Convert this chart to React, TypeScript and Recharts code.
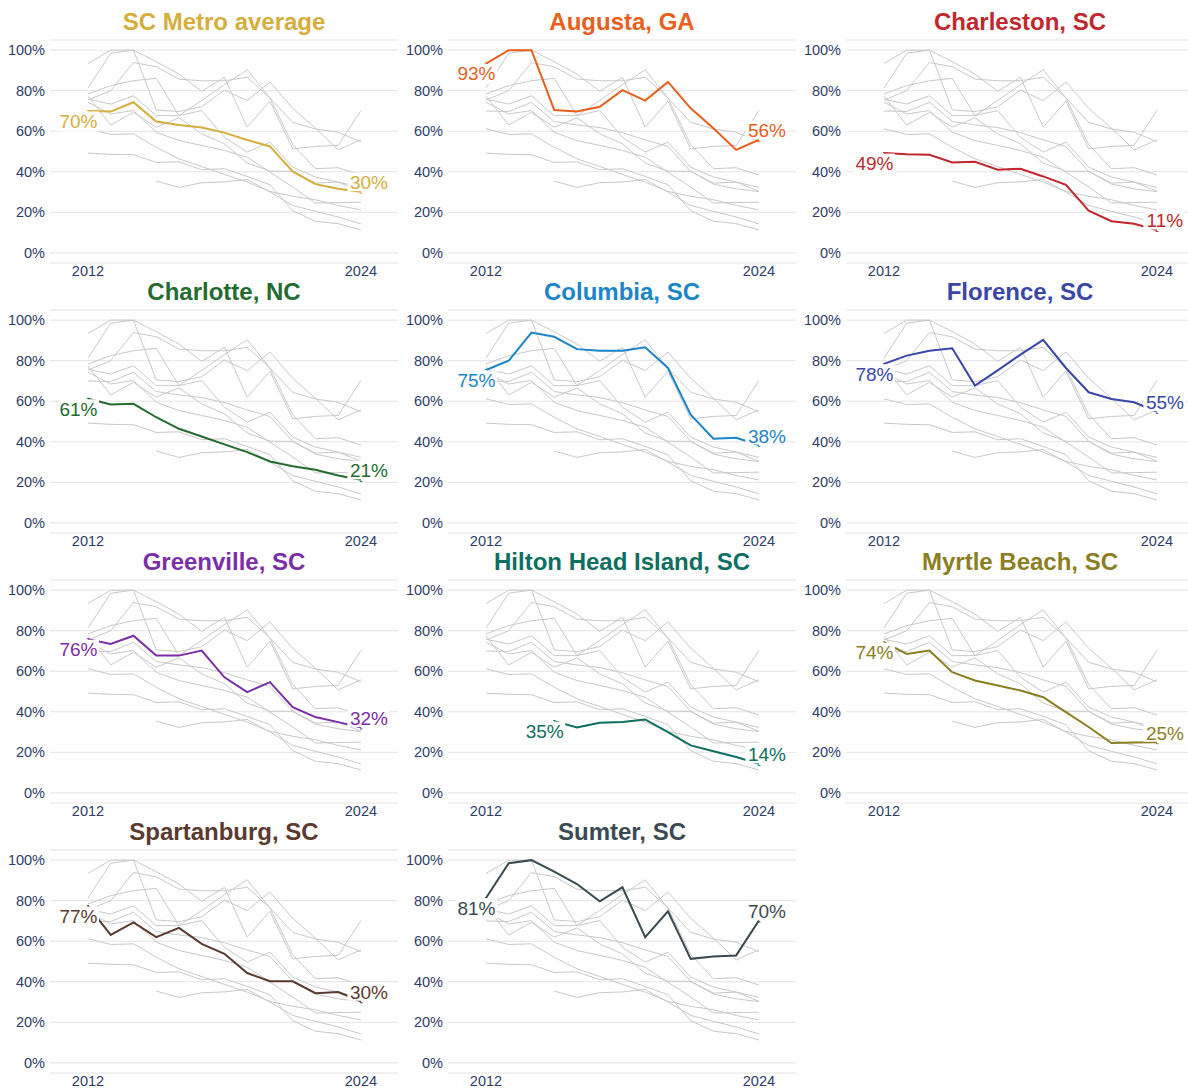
import React from 'react';
import { LineChart, Line, XAxis, YAxis, CartesianGrid } from 'recharts';

const years = [2012, 2013, 2014, 2015, 2016, 2017, 2018, 2019, 2020, 2021, 2022, 2023, 2024];

const scMetroAverage = [70.0, 69.7, 74.3, 64.8, 63.1, 61.8, 59.3, 55.7, 52.5, 40.2, 33.9, 31.6, 30.2];
const augusta = [93.4, 100, 100, 70.5, 69.7, 72.1, 80.3, 75.1, 84.3, 71.3, 61.5, 50.8, 55.8];
const charleston = [49.2, 48.6, 48.4, 44.6, 44.9, 41.0, 41.5, 37.7, 33.6, 20.8, 15.6, 14.4, 11.3];
const charlotte = [61.2, 58.4, 58.7, 52.1, 46.4, 42.6, 38.7, 34.9, 30.3, 27.9, 26.2, 23.4, 21.2];
const columbia = [75.4, 80.0, 93.9, 91.8, 85.7, 84.9, 84.9, 86.6, 76.4, 53.4, 41.5, 42.0, 38.4];
const florence = [78.4, 82.5, 84.9, 86.1, 67.7, 75.2, 83.0, 90.3, 76.4, 64.4, 61.1, 59.5, 54.8];
const greenville = [75.8, 73.4, 77.5, 67.7, 67.7, 70.2, 57.0, 49.7, 54.6, 42.3, 37.4, 34.9, 32.3];
const hiltonHead = [null, null, null, 35.4, 32.3, 34.6, 35.0, 36.2, 30.0, 23.4, 20.5, 17.7, 14.3];
const myrtleBeach = [74.3, 68.5, 70.2, 59.5, 55.4, 53.0, 50.5, 47.2, 39.8, 32.5, 24.6, 24.8, 25.0];
const spartanburg = [77.3, 63.1, 69.3, 62.0, 66.6, 58.7, 53.8, 44.3, 40.3, 40.2, 34.4, 34.9, 30.4];
const sumter = [81.3, 98.5, 100, 94.3, 88.2, 79.7, 86.6, 62.0, 74.8, 51.3, 52.5, 53.0, 70.2];

const seriesNames = [
  'SC Metro average', 'Augusta, GA', 'Charleston, SC', 'Charlotte, NC', 'Columbia, SC',
  'Florence, SC', 'Greenville, SC', 'Hilton Head Island, SC', 'Myrtle Beach, SC',
  'Spartanburg, SC', 'Sumter, SC',
];
const seriesKeys = ['avg', 'aug', 'chs', 'clt', 'col', 'flo', 'gvl', 'hhi', 'myr', 'spa', 'sum'];
const seriesValues = [
  scMetroAverage, augusta, charleston, charlotte, columbia, florence,
  greenville, hiltonHead, myrtleBeach, spartanburg, sumter,
];
const seriesColors = [
  '#D6AE3C', '#E8601C', '#C1272D', '#236B2E', '#1B85C9', '#3A47A8',
  '#7A2EA8', '#0E6E60', '#8C7E22', '#5A3A30', '#3A4A52',
];
const yTicks = [0, 20, 40, 60, 80, 100];
const xTicks = [2012, 2024];

const data = years.map((year, i) => {
  const row: Record<string, number | null> = { year };
  seriesKeys.forEach((k, s) => {
    row[k] = seriesValues[s][i];
  });
  return row;
});

const FONT = '"Liberation Sans", Arial, Helvetica, sans-serif';
const NAVY = '#2E3D6B';
const PANEL_W = 398;
const PANEL_H = 285;
const ROW_PITCH = 270;

const XTick = (props: any) => (
  <text x={props.x} y={props.y} dy="0.355em" textAnchor="middle" fill={NAVY} fontSize={14.5} fontFamily={FONT}>
    {props.payload.value}
  </text>
);

const YTick = (props: any) => (
  <text x={props.x} y={props.y} dy="0.355em" textAnchor="end" fill={NAVY} fontSize={14.5} fontFamily={FONT}>
    {props.payload.value}%
  </text>
);

function makeLabel(values: (number | null)[], color: string) {
  const first = values.findIndex((v) => v != null);
  const last = values.length - 1;
  return (props: any) => {
    const { x, y, index, value } = props;
    if (value == null || x == null || y == null || isNaN(Number(y))) return null;
    const isFirst = index === first || (index === undefined && value === values[first]);
    const isLast = index === last || (index === undefined && value === values[last]);
    if (!isFirst && !isLast) return null;
    const txt = `${Math.round(Number(value))}%`;
    const px = Number(x);
    const py = Number(y);
    if (isFirst) {
      return (
        <g key={`lf-${index}`}>
          <rect x={px - 30} y={py + 0.5} width={41} height={20} fill="#ffffff" />
          <line x1={px - 1} y1={py - 0.5} x2={px + 1} y2={py - 0.5} stroke={color} strokeWidth={1} />
          <text x={px - 9.5} y={py + 16.8} textAnchor="middle" fill={color} fontSize={19} fontFamily={FONT}>
            {txt}
          </text>
        </g>
      );
    }
    return (
      <g key={`ll-${index}`}>
        <rect x={px - 13.5} y={py - 19} width={42} height={18.5} fill="#ffffff" />
        <line x1={px - 1} y1={py + 1.5} x2={px + 1.5} y2={py + 1.5} stroke={color} strokeWidth={1} />
        <text x={px + 8} y={py - 2.5} textAnchor="middle" fill={color} fontSize={19} fontFamily={FONT}>
          {txt}
        </text>
      </g>
    );
  };
}

function Panel({ idx }: { idx: number }) {
  const col = idx % 3;
  const row = Math.floor(idx / 3);
  const key = seriesKeys[idx];
  const color = seriesColors[idx];
  return (
    <div style={{ position: 'absolute', left: col * PANEL_W, top: row * ROW_PITCH, width: PANEL_W, height: PANEL_H }}>
      <div
        style={{
          position: 'absolute',
          left: 50,
          width: 348,
          top: 9.5,
          textAlign: 'center',
          fontFamily: FONT,
          fontWeight: 'bold',
          fontSize: 24,
          lineHeight: '24px',
          color,
          whiteSpace: 'nowrap',
        }}
      >
        {seriesNames[idx]}
      </div>
      <LineChart width={PANEL_W} height={PANEL_H} data={data} margin={{ top: 40, right: 0, bottom: 0, left: 0 }}>
        <CartesianGrid vertical={false} stroke="#e4e4e4" strokeWidth={1} />
        <XAxis
          dataKey="year"
          type="number"
          domain={[2010.33, 2025.63]}
          ticks={xTicks}
          interval={0}
          height={22}
          tickLine={false}
          axisLine={false}
          tickSize={0}
          tickMargin={8}
          tick={<XTick />}
          allowDataOverflow
        />
        <YAxis
          type="number"
          domain={[-5, 105]}
          ticks={yTicks}
          interval={0}
          width={50}
          tickLine={false}
          axisLine={false}
          tickSize={0}
          tickMargin={5}
          tick={<YTick />}
          allowDataOverflow
        />
        {seriesKeys.map((k) => (
          <Line
            key={k}
            type="linear"
            dataKey={k}
            stroke="#c9c9c9"
            strokeWidth={1}
            dot={false}
            activeDot={false}
            isAnimationActive={false}
          />
        ))}
        <Line
          key={`hl-${key}`}
          type="linear"
          dataKey={key}
          stroke={color}
          strokeWidth={2}
          dot={false}
          activeDot={false}
          isAnimationActive={false}
          label={makeLabel(seriesValues[idx], color)}
        />
      </LineChart>
    </div>
  );
}

export default function App() {
  return (
    <div style={{ position: 'absolute', left: 0, top: 0, width: 1188, height: 1088, background: '#ffffff', overflow: 'hidden' }}>
      {seriesNames.map((_, i) => (
        <Panel key={i} idx={i} />
      ))}
    </div>
  );
}
